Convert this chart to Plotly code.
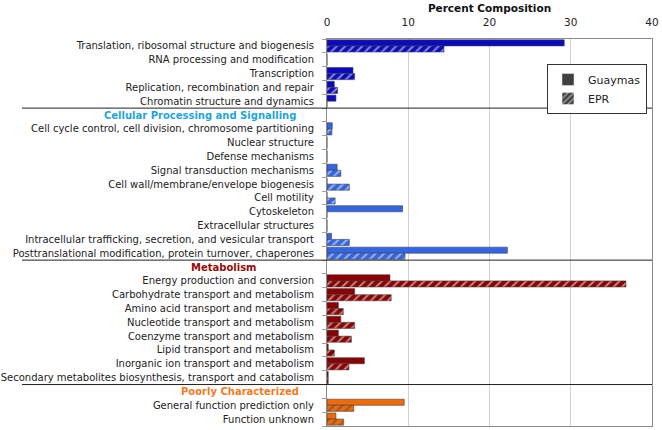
import plotly.graph_objects as go

categories = [
    "Translation, ribosomal structure and biogenesis",
    "RNA processing and modification",
    "Transcription",
    "Replication, recombination and repair",
    "Chromatin structure and dynamics",
    "",
    "Cell cycle control, cell division, chromosome partitioning",
    "Nuclear structure",
    "Defense mechanisms",
    "Signal transduction mechanisms",
    "Cell wall/membrane/envelope biogenesis",
    "Cell motility",
    "Cytoskeleton",
    "Extracellular structures",
    "Intracellular trafficking, secretion, and vesicular transport",
    "Posttranslational modification, protein turnover, chaperones",
    "",
    "Energy production and conversion",
    "Carbohydrate transport and metabolism",
    "Amino acid transport and metabolism",
    "Nucleotide transport and metabolism",
    "Coenzyme transport and metabolism",
    "Lipid transport and metabolism",
    "Inorganic ion transport and metabolism",
    "Secondary metabolites biosynthesis, transport and catabolism",
    "",
    "General function prediction only",
    "Function unknown",
]
section = ["info"] * 5 + ["hdr"] + ["cell"] * 10 + ["hdr"] + ["met"] * 8 + ["hdr"] + ["poor"] * 2

guaymas = [29.2, 0, 3.2, 0.9, 1.1, None,
           0.65, 0, 0, 1.25, 0, 0, 9.3, 0, 0.55, 22.2, None,
           7.75, 3.4, 1.4, 1.7, 1.4, 0.15, 4.6, 0.15, None,
           9.5, 1.1]
epr = [14.4, 0, 3.4, 1.3, 0, None,
       0.6, 0, 0, 1.7, 2.75, 1.0, 0, 0, 2.75, 9.6, None,
       36.8, 7.9, 2.0, 3.4, 3.0, 0.9, 2.7, 0.15, None,
       3.3, 2.05]

headers = ["Information Storage and Processing", "Cellular Processing and Signalling",
           "Metabolism", "Poorly Characterized"]
header_rows = [-0.75, 5, 16, 25]
header_colors = ["#1010B0", "#1EA5DC", "#9A0A0A", "#F57A1E"]
header_centers_px = [197, 200, 224, 240]

colors = {"info": "#0A0AC0", "cell": "#3366E6", "met": "#8B0000", "poor": "#F06A0A", "hdr": "#000000"}
bar_colors = [colors[s] for s in section]

y = list(range(len(categories)))

fig = go.Figure()
fig.add_trace(go.Bar(
    name="Guaymas", x=guaymas, y=y, orientation="h", offsetgroup="g",
    marker=dict(color=bar_colors, line=dict(color="#404040", width=0.6)),
    showlegend=False,
))
fig.add_trace(go.Bar(
    name="EPR", x=epr, y=y, orientation="h", offsetgroup="e",
    marker=dict(color=bar_colors, line=dict(color="#404040", width=0.6),
                pattern=dict(shape="/", bgcolor=bar_colors, fgcolor="white", size=6, solidity=0.35)),
    showlegend=False,
))
fig.add_trace(go.Bar(
    name="Guaymas", x=[None], y=[0], orientation="h", offsetgroup="g",
    marker=dict(color="#404040"),
))
fig.add_trace(go.Bar(
    name="EPR", x=[None], y=[0], orientation="h", offsetgroup="e",
    marker=dict(color="#404040", pattern=dict(shape="/", bgcolor="#404040", fgcolor="white", size=5, solidity=0.35)),
))

L, R = 327, 652
W = R - L
def px2paper(px):
    return (px - L) / W

annotations = []
for h, r, c, cx in zip(headers, header_rows, header_colors, header_centers_px):
    annotations.append(dict(text="<b>%s</b>" % h, x=px2paper(cx), xref="paper", y=r, yref="y",
                            showarrow=False, xanchor="center", yanchor="middle",
                            font=dict(family="DejaVu Sans", size=10, color=c)))

shapes = []
for yy in [4.5, 15.5, 24.5]:
    shapes.append(dict(type="line", xref="paper", yref="y", x0=px2paper(22), x1=1, y0=yy, y1=yy,
                       line=dict(color="#202020", width=1)))

fig.update_layout(
    width=662, height=430,
    margin=dict(l=L, r=662 - R, t=39, b=4),
    paper_bgcolor="white", plot_bgcolor="white",
    barmode="group", bargap=0.12, bargroupgap=0.0,
    font=dict(family="DejaVu Sans", size=10, color="#222222"),
    xaxis=dict(side="top", range=[0, 40], tickvals=[0, 10, 20, 30, 40], automargin=False,
               showgrid=True, gridcolor="#D0D0D0", gridwidth=1, zeroline=False,
               showline=True, mirror=True, linecolor="#8A8A8A", linewidth=1,
               ticks="", ticklabelstandoff=8, tickfont=dict(size=10.5, color="#222222"),
               title=dict(text="<b>Percent Composition</b>", font=dict(size=10.5, color="#111111"), standoff=1)),
    yaxis=dict(range=[27.5, -0.5], tickvals=y, ticktext=categories, showgrid=False, zeroline=False,
               automargin=False,
               showline=True, mirror=True, linecolor="#8A8A8A", linewidth=1, ticks="",
               ticklabelstandoff=10, tickfont=dict(size=10, color="#222222"),
               minor=dict(tickvals=[i - 0.5 for i in range(29)], ticks="outside", ticklen=4, tickcolor="#A0A0A0")),
    legend=dict(x=px2paper(647), xanchor="right", y=1 - (64 - 39) / 387, yanchor="top",
                bordercolor="#333333", borderwidth=1, bgcolor="white",
                font=dict(size=11, color="#222222"), tracegroupgap=0),
    annotations=annotations, shapes=shapes,
)

fig.write_html("out.html", config={"displayModeBar": False},
               post_script="document.body.style.margin='0';document.body.style.overflow='hidden';")
